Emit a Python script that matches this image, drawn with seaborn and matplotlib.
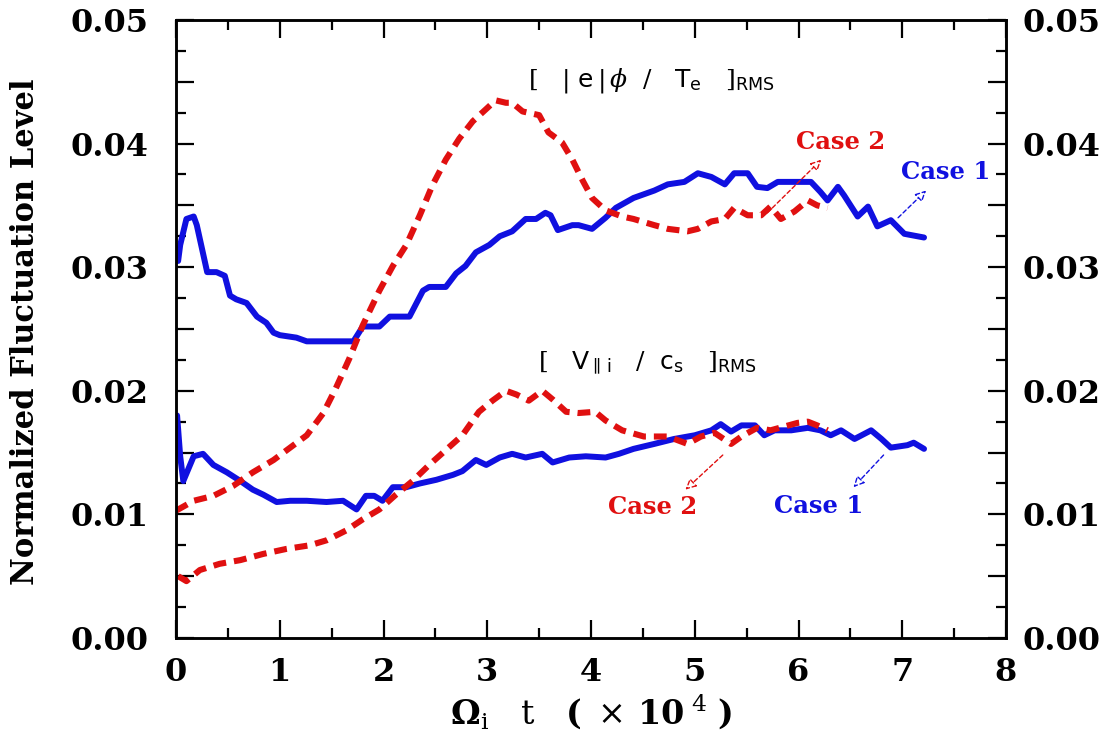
import numpy as np
import pandas as pd
import matplotlib
matplotlib.use("Agg")
import matplotlib.pyplot as plt
import seaborn as sns
from matplotlib.ticker import MultipleLocator, FuncFormatter

# ---- data ----
# Case 1, potential fluctuation  [|e phi| / T_e]_RMS
phi1_t = [0.02, 0.04, 0.10, 0.17, 0.20, 0.25, 0.30, 0.39, 0.47, 0.52, 0.58, 0.68, 0.78, 0.87,
          0.94, 1.00, 1.16, 1.26, 1.48, 1.71, 1.80, 1.96, 2.06, 2.25, 2.38, 2.44, 2.60, 2.70,
          2.79, 2.89, 3.02, 3.12, 3.24, 3.37, 3.47, 3.56, 3.61, 3.68, 3.82, 3.88, 4.01, 4.14,
          4.24, 4.41, 4.61, 4.74, 4.90, 5.03, 5.16, 5.29, 5.38, 5.51, 5.60, 5.70, 5.80, 5.93,
          6.02, 6.12, 6.21, 6.28, 6.38, 6.44, 6.57, 6.67, 6.76, 6.89, 7.02, 7.21]
phi1_v = [0.0305, 0.0318, 0.0339, 0.0341, 0.0334, 0.0315, 0.0296, 0.0296, 0.0293, 0.0277,
          0.0274, 0.0271, 0.0260, 0.0255, 0.0247, 0.0245, 0.0243, 0.0240, 0.0240, 0.0240,
          0.0252, 0.0252, 0.0260, 0.0260, 0.0281, 0.0284, 0.0284, 0.0295, 0.0301, 0.0312,
          0.0318, 0.0325, 0.0329, 0.0339, 0.0339, 0.0344, 0.0342, 0.0330, 0.0334, 0.0334,
          0.0331, 0.0340, 0.0348, 0.0356, 0.0362, 0.0367, 0.0369, 0.0376, 0.0373, 0.0367,
          0.0376, 0.0376, 0.0365, 0.0364, 0.0369, 0.0369, 0.0369, 0.0369, 0.0361, 0.0354,
          0.0365, 0.0358, 0.0341, 0.0349, 0.0333, 0.0338, 0.0327, 0.0324]

# Case 2, potential fluctuation
phi2_t = [0.00, 0.17, 0.36, 0.55, 0.74, 0.94, 1.10, 1.26, 1.42, 1.54, 1.67, 1.80, 1.96, 2.09,
          2.22, 2.35, 2.47, 2.60, 2.73, 2.86, 2.99, 3.08, 3.18, 3.24, 3.34, 3.50, 3.59, 3.72,
          3.82, 3.92, 4.01, 4.14, 4.30, 4.41, 4.61, 4.74, 4.93, 5.03, 5.16, 5.29, 5.38, 5.51,
          5.64, 5.73, 5.83, 5.96, 6.09, 6.18, 6.28]
phi2_v = [0.0103, 0.0111, 0.0115, 0.0123, 0.0134, 0.0144, 0.0154, 0.0164, 0.0182, 0.0202,
          0.0226, 0.0253, 0.0281, 0.0301, 0.0318, 0.0342, 0.0366, 0.0387, 0.0404, 0.0418,
          0.0428, 0.0435, 0.0433, 0.0433, 0.0426, 0.0423, 0.0409, 0.0401, 0.0387, 0.0370,
          0.0356, 0.0346, 0.0341, 0.0339, 0.0334, 0.0331, 0.0329, 0.0331, 0.0337, 0.0339,
          0.0348, 0.0342, 0.0342, 0.0349, 0.0339, 0.0345, 0.0354, 0.0350, 0.0348]

# Case 1, parallel ion velocity fluctuation [V_||i / c_s]_RMS
vi1_t = [0.01, 0.04, 0.07, 0.12, 0.17, 0.26, 0.36, 0.49, 0.62, 0.74, 0.84, 0.97, 1.10, 1.26,
         1.45, 1.61, 1.74, 1.83, 1.91, 1.99, 2.09, 2.22, 2.35, 2.51, 2.67, 2.76, 2.89, 2.99,
         3.12, 3.24, 3.37, 3.53, 3.63, 3.79, 3.95, 4.14, 4.27, 4.41, 4.61, 4.80, 5.00, 5.16,
         5.25, 5.35, 5.45, 5.58, 5.67, 5.77, 5.93, 6.09, 6.21, 6.31, 6.41, 6.54, 6.70, 6.80,
         6.89, 7.05, 7.11, 7.21]
vi1_v = [0.0180, 0.0147, 0.0127, 0.0137, 0.0147, 0.0149, 0.0140, 0.0134, 0.0127, 0.0120,
         0.0116, 0.0110, 0.0111, 0.0111, 0.0110, 0.0111, 0.0104, 0.0115, 0.0115, 0.0111,
         0.0122, 0.0122, 0.0125, 0.0128, 0.0132, 0.0135, 0.0144, 0.0140, 0.0146, 0.0149,
         0.0146, 0.0149, 0.0142, 0.0146, 0.0147, 0.0146, 0.0149, 0.0153, 0.0157, 0.0161,
         0.0164, 0.0168, 0.0173, 0.0167, 0.0172, 0.0172, 0.0164, 0.0168, 0.0168, 0.0170,
         0.0168, 0.0164, 0.0168, 0.0161, 0.0168, 0.0161, 0.0154, 0.0156, 0.0158, 0.0153]

# Case 2, parallel ion velocity fluctuation
vi2_t = [0.02, 0.10, 0.23, 0.42, 0.62, 0.84, 1.06, 1.29, 1.45, 1.64, 1.80, 1.96, 2.12, 2.28,
         2.44, 2.60, 2.76, 2.92, 3.05, 3.18, 3.28, 3.40, 3.53, 3.63, 3.76, 3.88, 4.04, 4.14,
         4.30, 4.51, 4.74, 4.93, 5.06, 5.19, 5.35, 5.45, 5.60, 5.73, 5.86, 5.99, 6.09, 6.18,
         6.28]
vi2_v = [0.0050, 0.0046, 0.0055, 0.0060, 0.0063, 0.0068, 0.0072, 0.0075, 0.0079, 0.0087,
         0.0096, 0.0104, 0.0116, 0.0127, 0.0140, 0.0152, 0.0164, 0.0183, 0.0192, 0.0200,
         0.0197, 0.0192, 0.0200, 0.0193, 0.0183, 0.0182, 0.0183, 0.0176, 0.0168, 0.0163,
         0.0163, 0.0157, 0.0163, 0.0166, 0.0157, 0.0163, 0.0170, 0.0168, 0.0171, 0.0174,
         0.0175, 0.0172, 0.0168]

BLUE = "#1010e0"
RED = "#e01010"

sns.set_style("ticks")
plt.rcParams["font.family"] = ["DejaVu Serif", "DejaVu Sans"]
plt.rcParams["mathtext.fontset"] = "dejavuserif"
plt.rcParams["text.color"] = "black"
plt.rcParams["axes.labelcolor"] = "black"
plt.rcParams["xtick.color"] = "black"
plt.rcParams["ytick.color"] = "black"

fig = plt.figure(figsize=(11.10, 7.51), dpi=100)
ax = fig.add_axes([0.1586, 0.1505, 0.9063 - 0.1586, 0.9734 - 0.1505])

sns.lineplot(x=phi1_t, y=phi1_v, ax=ax, color=BLUE, lw=4.3, sort=False)
sns.lineplot(x=vi1_t, y=vi1_v, ax=ax, color=BLUE, lw=4.3, sort=False)
sns.lineplot(x=phi2_t, y=phi2_v, ax=ax, color=RED, lw=4.4, sort=False)
sns.lineplot(x=vi2_t, y=vi2_v, ax=ax, color=RED, lw=4.4, sort=False)
for ln in ax.lines[2:4]:
    ln.set_linestyle((0, (2.1, 1.3)))

def yfmt(v, pos):
    k = int(round(v / 0.005))
    return f"{v:.2f}" if k % 2 == 0 else ""

def setup_y(a):
    a.set_ylim(0, 0.05)
    a.yaxis.set_major_locator(MultipleLocator(0.005))
    a.yaxis.set_minor_locator(MultipleLocator(0.0025))
    a.yaxis.set_major_formatter(FuncFormatter(yfmt))

ax.set_xlim(0, 8)
setup_y(ax)
ax.xaxis.set_major_locator(MultipleLocator(1))
ax.xaxis.set_minor_locator(MultipleLocator(0.5))
ax.xaxis.set_major_formatter(FuncFormatter(lambda v, p: f"{int(round(v))}"))

ax.tick_params(which="both", direction="in", top=True, right=False,
               width=1.6, color="black", labelcolor="black")
ax.tick_params(which="major", length=13, labelsize=23)
ax.tick_params(which="minor", length=7)
ax.tick_params(axis="y", which="major", pad=20)
ax.tick_params(axis="x", which="major", pad=14)

ax2 = ax.twinx()
setup_y(ax2)
ax2.tick_params(which="both", direction="in", right=True, left=False,
                width=1.6, color="black", labelcolor="black")
ax2.tick_params(which="major", length=13, labelsize=23, pad=12)
ax2.tick_params(which="minor", length=7)

for a in (ax, ax2):
    for t in a.xaxis.get_major_ticks() + a.yaxis.get_major_ticks():
        t.label1.set_fontweight("bold")
        t.label2.set_fontweight("bold")
    for s in a.spines.values():
        s.set_linewidth(1.8)
        s.set_color("black")

ax.set_ylabel("Normalized Fluctuation Level", fontsize=22, fontweight="bold")
ax.yaxis.set_label_coords(-0.163, 0.495)
ax.set_xlabel(r"$\mathbf{\Omega}_{\mathrm{i}}\ \ \ \mathrm{t}\ \ \ \mathbf{(}\ \times\,\mathbf{10}^{\ 4}\ \mathbf{)}$",
              fontsize=24, labelpad=3)

# curve group labels
ax.text(3.39, 0.0451,
        r"$[\ \ \ |\ \mathsf{e}\,|\,\phi\ \ /\ \ \ \mathsf{T}_{\mathsf{e}}\ \ \ ]_{\mathsf{RMS}}$",
        fontsize=18, ha="left", va="center", color="black")
ax.text(3.49, 0.0222,
        r"$[\ \ \ \mathsf{V}_{\parallel\,\mathsf{i}}\ \ \ /\ \ \mathsf{c}_{\mathsf{s}}\ \ \ ]_{\mathsf{RMS}}$",
        fontsize=18, ha="left", va="center", color="black")

# case annotations
ckw = dict(fontsize=17.5, fontweight="bold", ha="center", va="center")
ax.text(6.41, 0.0401, "Case 2", color=RED, **ckw)
ax.text(7.42, 0.0377, "Case 1", color=BLUE, **ckw)
ax.text(4.59, 0.0106, "Case 2", color=RED, **ckw)
ax.text(6.19, 0.0107, "Case 1", color=BLUE, **ckw)

arrow_kw = dict(arrowstyle="-|>", lw=1.0, ls=(0, (3, 2)), mutation_scale=16,
                shrinkA=0, shrinkB=0)
ax.annotate("", xy=(6.22, 0.0387), xytext=(5.70, 0.0344),
            arrowprops=dict(color=RED, fc="white", **arrow_kw))
ax.annotate("", xy=(7.23, 0.0362), xytext=(6.96, 0.0340),
            arrowprops=dict(color=BLUE, fc="white", **arrow_kw))
ax.annotate("", xy=(4.91, 0.0120), xytext=(5.27, 0.0148),
            arrowprops=dict(color=RED, fc="white", **arrow_kw))
ax.annotate("", xy=(6.53, 0.0122), xytext=(6.82, 0.0148),
            arrowprops=dict(color=BLUE, fc="white", **arrow_kw))

fig.savefig("out.png", dpi=100)
